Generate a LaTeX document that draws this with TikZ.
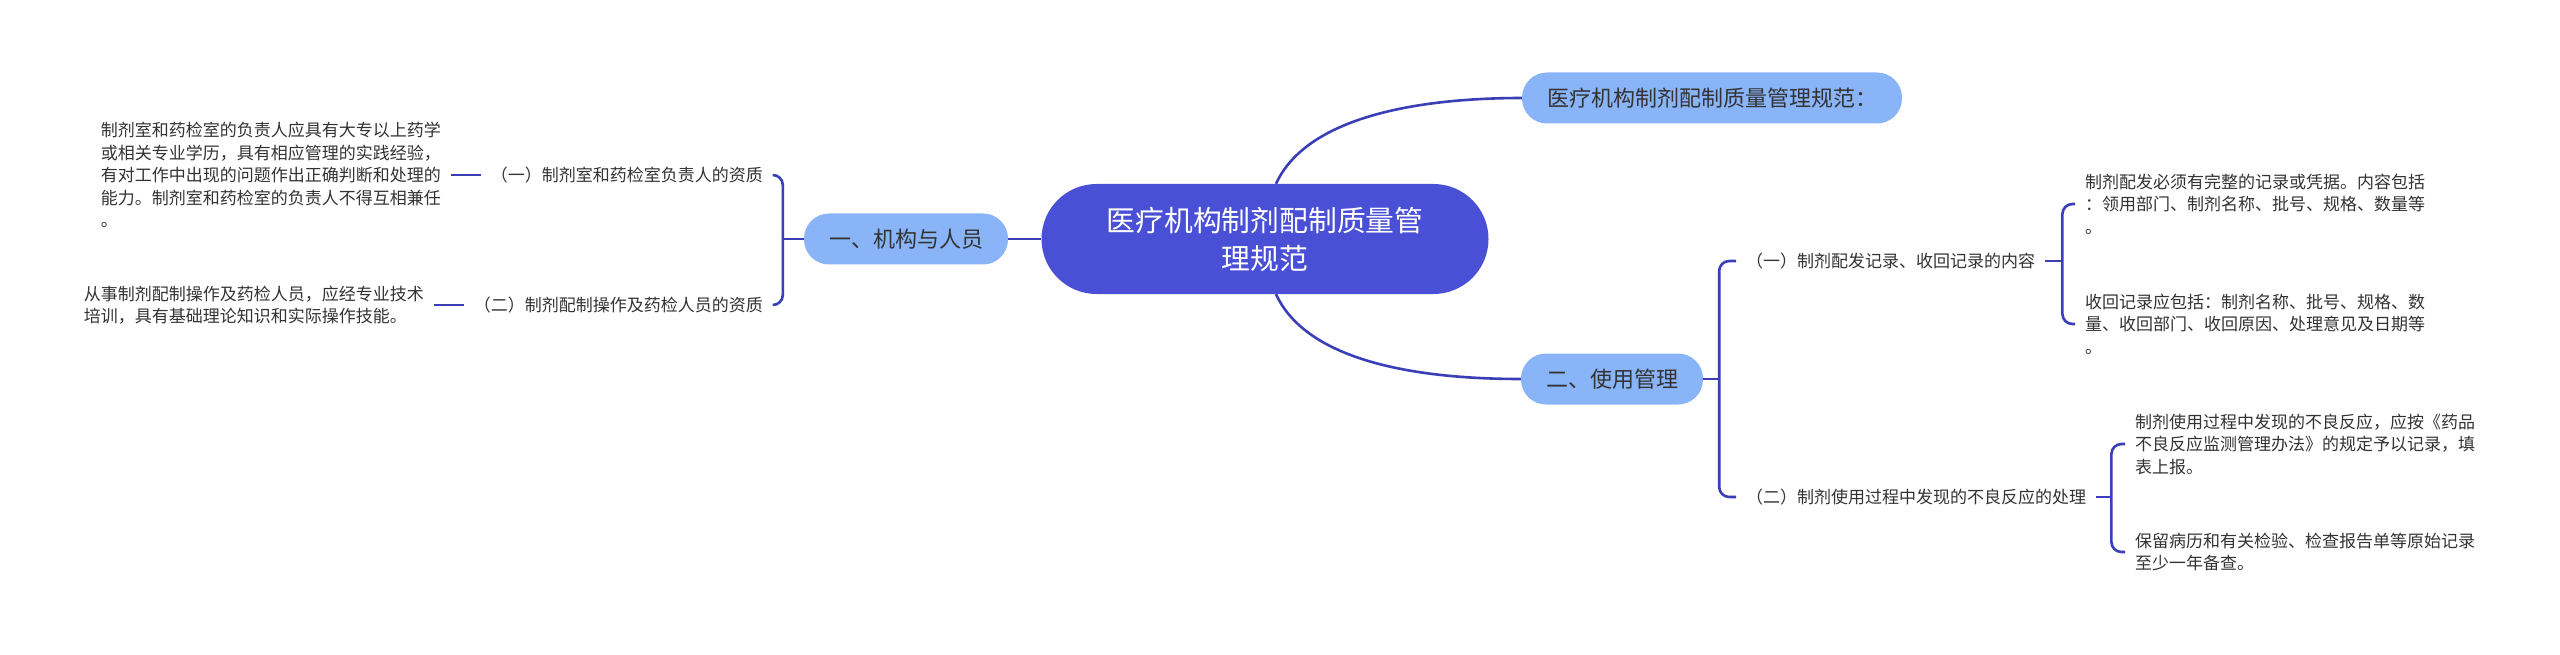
\documentclass[tikz,border=0pt]{standalone}
\usepackage{fontspec}
\setmainfont{Noto Sans CJK SC}
\definecolor{zlRoot}{HTML}{4A50D5}
\definecolor{zlSub}{HTML}{8AB4F8}
\definecolor{zlLine}{HTML}{3A3FB8}
\definecolor{zlText}{HTML}{333333}
\tikzset{
  root/.style={rounded corners=55pt, fill=zlRoot, text=white, align=center,
              minimum width=447pt, minimum height=110pt,
              font=\fontsize{28.8}{38}\selectfont},
  sub/.style={rounded corners=25pt, fill=zlSub, text=zlText, inner xsep=25pt,
              minimum height=51pt, font=\fontsize{22}{26}\selectfont},
  lbl/.style={inner xsep=10pt, inner ysep=2pt, text=zlText,
              font=\fontsize{17}{22}\selectfont},
  leaf/.style={align=left, inner xsep=10pt, inner ysep=2pt, text=zlText,
              font=\fontsize{17}{22.5}\selectfont},
  link/.style={draw=zlLine, line width=2.6pt},
  brace/.style={link, rounded corners=10pt},
}
\begin{document}
\begin{tikzpicture}[x=1pt,y=-1pt]
  \path[fill=white,use as bounding box] (0,0) rectangle (2560,655);
  % centre and first level
  \node[root] (root) at (1265,239){医疗机构制剂配制质量管\\理规范};
  \node[sub] (org) at (906,239){一、机构与人员};
  \node[sub] (spec) at (1712,98){医疗机构制剂配制质量管理规范：};
  \node[sub] (use) at (1612,379){二、使用管理};
  \draw[link](root.west)--(org.east);
  \draw[link]([xshift=11pt]root.north) .. controls +(34,-74) and +(-82,0) .. (spec.west);
  \draw[link]([xshift=11pt]root.south) .. controls +(34,74) and +(-82,0) .. (use.west);
  % left: 机构与人员
  \node[lbl,anchor=east] (org1) at (773,175){（一）制剂室和药检室负责人的资质};
  \node[lbl,anchor=east] (org2) at (773,305){（二）制剂配制操作及药检人员的资质};
  \node[leaf,anchor=east] (org1a) at (451,175){制剂室和药检室的负责人应具有大专以上药学\\或相关专业学历，具有相应管理的实践经验，\\有对工作中出现的问题作出正确判断和处理的\\能力。制剂室和药检室的负责人不得互相兼任\\。};
  \node[leaf,anchor=east] (org2a) at (434,305){从事制剂配制操作及药检人员，应经专业技术\\培训，具有基础理论知识和实际操作技能。};
  \coordinate (orgj) at ([xshift=-21pt]org.west);
  \draw[link](org.west)--(orgj);
  \draw[brace](orgj)|-(org1.east);\draw[brace](orgj)|-(org2.east);
  \draw[link](org1.west)--(org1a.east);\draw[link](org2.west)--(org2a.east);
  % right: 使用管理
  \node[lbl,anchor=west] (use1) at (1736,261){（一）制剂配发记录、收回记录的内容};
  \node[lbl,anchor=west] (use2) at (1736,497){（二）制剂使用过程中发现的不良反应的处理};
  \coordinate (usej) at ([xshift=16pt]use.east);
  \draw[link](use.east)--(usej);
  \draw[brace](usej)|-(use1.west);\draw[brace](usej)|-(use2.west);
  \node[leaf,anchor=west] (use1a) at (2075,204){制剂配发必须有完整的记录或凭据。内容包括\\：领用部门、制剂名称、批号、规格、数量等\\。};
  \node[leaf,anchor=west] (use1b) at (2075,324){收回记录应包括：制剂名称、批号、规格、数\\量、收回部门、收回原因、处理意见及日期等\\。};
  \node[leaf,anchor=west] (use2a) at (2125,444){制剂使用过程中发现的不良反应，应按《药品\\不良反应监测管理办法》的规定予以记录，填\\表上报。};
  \node[leaf,anchor=west] (use2b) at (2125,552){保留病历和有关检验、检查报告单等原始记录\\至少一年备查。};
  \coordinate (use1j) at ([xshift=17pt]use1.east);
  \coordinate (use2j) at ([xshift=15pt]use2.east);
  \draw[link](use1.east)--(use1j);\draw[link](use2.east)--(use2j);
  \draw[brace](use1j)|-(use1a.west);\draw[brace](use1j)|-(use1b.west);
  \draw[brace](use2j)|-(use2a.west);\draw[brace](use2j)|-(use2b.west);
\end{tikzpicture}
\end{document}
